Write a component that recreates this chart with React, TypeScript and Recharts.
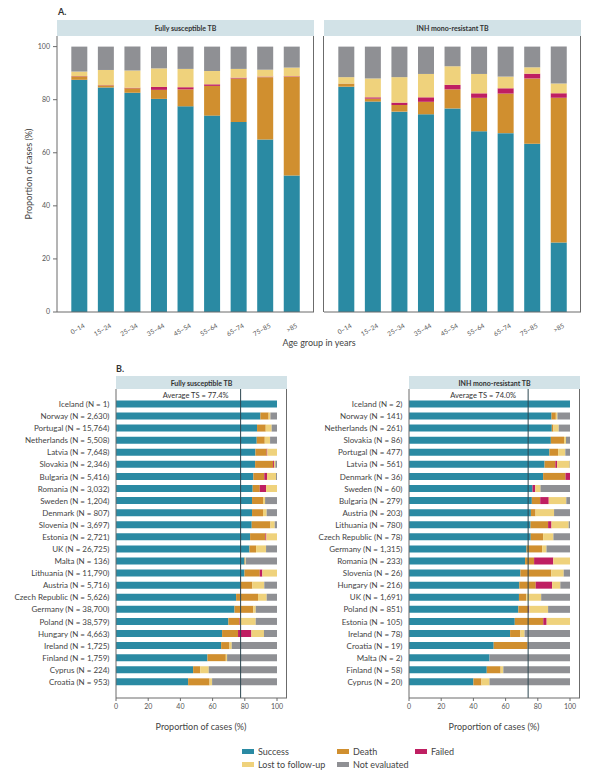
import { BarChart, Bar, XAxis, YAxis, ReferenceLine } from "recharts";

// ---- Panel A: outcome by age group ----
const ageGroups = ["0–14", "15–24", "25–34", "35–44", "45–54", "55–64", "65–74", "75–85", ">85"];

const fsAgeSuccess = [87.5, 84.6, 82.6, 80.3, 77.5, 74.0, 71.6, 65.0, 51.4];
const fsAgeDeath = [1.3, 0.8, 1.7, 3.4, 6.4, 11.2, 16.4, 23.5, 37.2];
const fsAgeFailed = [0.1, 0.1, 0.2, 1.1, 0.8, 0.6, 0.3, 0.2, 0.2];
const fsAgeLost = [1.7, 5.7, 6.5, 7.0, 6.9, 5.0, 3.3, 2.6, 3.3];
const fsAgeNotEval = [9.4, 8.8, 9.0, 8.2, 8.4, 9.2, 8.4, 8.7, 7.9];

const inhAgeSuccess = [84.9, 79.3, 75.5, 74.5, 76.7, 68.1, 67.4, 63.4, 26.2];
const inhAgeDeath = [1.2, 1.1, 2.5, 4.7, 7.2, 12.6, 14.9, 24.6, 54.5];
const inhAgeFailed = [0, 0.5, 0.9, 1.7, 1.7, 1.7, 2.0, 1.8, 1.7];
const inhAgeLost = [2.4, 7.1, 9.6, 8.8, 7.0, 7.3, 4.4, 2.4, 3.7];
const inhAgeNotEval = [11.5, 12.0, 11.5, 10.3, 7.4, 10.3, 11.3, 7.8, 13.9];

// ---- Panel B: outcome by country ----
const fsCountries = [
  "Iceland", "Norway", "Portugal", "Netherlands", "Latvia", "Slovakia", "Bulgaria", "Romania",
  "Sweden", "Denmark", "Slovenia", "Estonia", "UK", "Malta", "Lithuania", "Austria",
  "Czech Republic", "Germany", "Poland", "Hungary", "Ireland", "Finland", "Cyprus", "Croatia",
];
const fsN = [1, 2630, 15764, 5508, 7648, 2346, 5416, 3032, 1204, 807, 3697, 2721, 26725, 136, 11790, 5716, 5626, 38700, 38579, 4663, 1725, 1759, 224, 953];
const fsSuccess = [100, 89.7, 87.6, 87.4, 86.6, 86.4, 85.3, 84.9, 84.5, 84.5, 84.3, 83.3, 82.9, 79.8, 79.8, 77.1, 74.6, 73.6, 69.8, 65.9, 65.3, 56.8, 47.9, 44.8];
const fsDeath = [0, 5.1, 5.4, 5.0, 7.0, 11.1, 6.8, 4.4, 6.8, 6.8, 11.6, 9.5, 4.1, 0.4, 9.5, 7.6, 13.6, 11.7, 6.9, 9.9, 5.2, 11.4, 4.4, 13.3];
const fsFailed = [0, 0, 0, 0, 0.4, 0.6, 1.7, 3.9, 0, 0, 0, 0.6, 0, 0, 1.6, 0, 0, 0, 0.4, 8.3, 0, 0, 0, 0];
const fsLost = [0, 1.1, 3.7, 3.3, 6.0, 0.9, 5.6, 6.8, 1.3, 2.3, 2.7, 6.6, 6.2, 0.4, 9.1, 7.4, 5.4, 1.5, 9.7, 7.8, 1.4, 0.8, 5.3, 1.6];
const fsNotEval = [0, 4.1, 3.3, 4.3, 0, 1.0, 0.6, 0, 7.4, 6.4, 1.4, 0, 6.8, 19.4, 0, 7.9, 6.4, 13.2, 13.2, 8.1, 28.1, 31.0, 42.4, 40.3];
const fsAverage = 77.4;

const inhCountries = [
  "Iceland", "Norway", "Netherlands", "Slovakia", "Portugal", "Latvia", "Denmark", "Sweden",
  "Bulgaria", "Austria", "Lithuania", "Czech Republic", "Germany", "Romania", "Slovenia", "Hungary",
  "UK", "Poland", "Estonia", "Ireland", "Croatia", "Malta", "Finland", "Cyprus",
];
const inhN = [2, 141, 261, 86, 477, 561, 36, 60, 279, 203, 780, 78, 1315, 233, 26, 216, 1691, 851, 105, 78, 19, 2, 58, 20];
const inhSuccess = [100, 88.5, 88.7, 88.1, 87.2, 84.2, 83.3, 76.7, 76.3, 75.7, 75.5, 75.6, 73.0, 72.1, 69.2, 68.5, 68.3, 67.9, 65.7, 62.8, 52.6, 50, 48.3, 40];
const inhDeath = [0, 2.7, 1.0, 8.2, 5.4, 6.7, 13.9, 0, 5.2, 2.9, 10.9, 7.7, 9.7, 5.6, 19.2, 10.2, 4.5, 6.2, 17.7, 6.4, 21.1, 0, 8.6, 5];
const inhFailed = [0, 0, 0, 0, 0, 1.1, 2.8, 1.7, 5.3, 0, 2.1, 0, 0, 11.9, 0, 10.2, 0, 0.6, 2.1, 0, 0, 0, 0, 0];
const inhLost = [0, 1.0, 3.3, 1.2, 4.5, 7.8, 0, 3.3, 10.9, 11.5, 10.7, 6.4, 2.7, 10.4, 7.7, 5.1, 9.3, 11.7, 14.5, 2.6, 0, 0, 1.7, 5];
const inhNotEval = [0, 7.8, 7.0, 2.5, 2.9, 0.2, 0, 18.3, 2.3, 9.9, 0.8, 10.3, 14.6, 0, 3.9, 6.0, 17.9, 13.6, 0, 28.2, 26.3, 50, 41.4, 50];
const inhAverage = 74.0;

const SERIES = [
  { key: "success", name: "Success", color: "#2a8aa3" },
  { key: "death", name: "Death", color: "#d08f2f" },
  { key: "failed", name: "Failed", color: "#bf1f62" },
  { key: "lost", name: "Lost to follow-up", color: "#efd27c" },
  { key: "notEval", name: "Not evaluated", color: "#8f9094" },
];

const FONT = "Lato, 'Open Sans', sans-serif";
const AXIS = "#6b6b6b";
const TEXT = "#444";
const STRIP = "#d2e2e7";

const fmtN = (n: number) => n.toLocaleString("en-US");

const ageRows = (s: number[], d: number[], f: number[], l: number[], ne: number[]) =>
  ageGroups.map((age, i) => ({ age, success: s[i], death: d[i], failed: f[i], lost: l[i], notEval: ne[i] }));

const countryRows = (c: string[], n: number[], s: number[], d: number[], f: number[], l: number[], ne: number[]) =>
  c.map((name, i) => ({
    label: `${name} (N = ${fmtN(n[i])})`,
    success: s[i], death: d[i], failed: f[i], lost: l[i], notEval: ne[i],
  }));

const fsAgeData = ageRows(fsAgeSuccess, fsAgeDeath, fsAgeFailed, fsAgeLost, fsAgeNotEval);
const inhAgeData = ageRows(inhAgeSuccess, inhAgeDeath, inhAgeFailed, inhAgeLost, inhAgeNotEval);
const fsCountryData = countryRows(fsCountries, fsN, fsSuccess, fsDeath, fsFailed, fsLost, fsNotEval);
const inhCountryData = countryRows(inhCountries, inhN, inhSuccess, inhDeath, inhFailed, inhLost, inhNotEval);

const AgeTick = (props: any) => {
  const { x, y, payload } = props;
  const tx = x + 6;
  const ty = y + 7;
  return (
    <text x={tx} y={ty} textAnchor="end" fontSize={6.5} fill="#555" fontFamily={FONT}
      transform={`rotate(-30, ${tx}, ${ty})`}>
      {payload.value}
    </text>
  );
};

// single-line row labels (the default tick wraps long text)
const RowTick = (props: any) => {
  const { x, y, payload } = props;
  return (
    <text x={x - 4.5} y={y} dy={3} textAnchor="end" fontSize={8} fill={TEXT} fontFamily={FONT}>
      {payload.value}
    </text>
  );
};

const AvgLabel = (text: string) => (props: any) => {
  const { viewBox } = props;
  return (
    <text x={viewBox.x - 12} y={viewBox.y + 9} textAnchor="end" fontSize={7.5} fill="#333" fontFamily={FONT}>
      {text}
    </text>
  );
};

const Strip = ({ left, top, width, height, text }: any) => (
  <div style={{
    position: "absolute", left, top, width, height, background: STRIP, color: "#333",
    fontSize: 7, fontWeight: 700, display: "flex", alignItems: "center", justifyContent: "center",
  }}>{text}</div>
);

const VLine = ({ left, top, height }: any) => (
  <div style={{ position: "absolute", left, top, width: 1, height, background: AXIS }} />
);

const renderBars = () =>
  SERIES.map((s) => (
    <Bar key={s.key} dataKey={s.key} name={s.name} stackId="a" fill={s.color} isAnimationActive={false} />
  ));

const AgePanel = ({ data, left, width, margin, showY }: any) => (
  <div style={{ position: "absolute", left, top: 0 }}>
    <BarChart width={width} height={340} data={data} margin={margin} barCategoryGap="20%">
      <XAxis dataKey="age" height={22} interval={0} tickLine={false} axisLine={{ stroke: AXIS }}
        padding={{ left: 9, right: 9 }} tick={<AgeTick />} />
      <YAxis hide={!showY} width={30} domain={[0, 104]} ticks={[0, 20, 40, 60, 80, 100]} allowDataOverflow
        tickSize={4} tickMargin={3} axisLine={{ stroke: AXIS }} tickLine={{ stroke: AXIS }}
        tick={{ fontSize: 7, fill: "#555", fontFamily: FONT }} />
      {renderBars()}
    </BarChart>
  </div>
);

const CountryPanel = ({ data, left, width, margin, yWidth, avg }: any) => (
  <div style={{ position: "absolute", left, top: 360 }}>
    <BarChart layout="vertical" width={width} height={380} data={data} margin={margin} barCategoryGap="20%">
      <XAxis type="number" domain={[0, 100]} ticks={[0, 20, 40, 60, 80, 100]} height={20}
        padding={{ left: 0, right: 10 }} tickSize={3} tickMargin={3}
        axisLine={{ stroke: AXIS }} tickLine={{ stroke: AXIS }}
        tick={{ fontSize: 7, fill: "#555", fontFamily: FONT }} />
      <YAxis type="category" dataKey="label" width={yWidth} interval={0} tickSize={0}
        tickLine={false} axisLine={{ stroke: AXIS }} padding={{ top: 9, bottom: 10 }}
        tick={<RowTick />} />
      {renderBars()}
      <ReferenceLine x={avg} stroke="#2c4650" strokeWidth={1}
        label={AvgLabel(`Average TS = ${avg.toFixed(1)}%`)} />
    </BarChart>
  </div>
);

const legendColumns = [["success", "lost"], ["death", "notEval"], ["failed"]];
const legendColWidths = [95, 78, 80];

export default function App() {
  return (
    <div style={{ position: "absolute", left: 0, top: 0, width: 616, height: 781, background: "#fff", fontFamily: FONT, color: TEXT }}>
      {/* Panel A */}
      <div style={{ position: "absolute", left: 58, top: 6, fontSize: 9, fontWeight: 700, color: "#333" }}>A.</div>
      <Strip left={57} top={20} width={257} height={16} text="Fully susceptible TB" />
      <Strip left={324} top={20} width={257} height={16} text="INH mono-resistant TB" />
      <AgePanel data={fsAgeData} left={0} width={320} margin={{ top: 36, right: 6, bottom: 6, left: 27 }} showY />
      <AgePanel data={inhAgeData} left={300} width={300} margin={{ top: 36, right: 19, bottom: 6, left: 24 }} showY={false} />
      <VLine left={313} top={36} height={276} />
      <VLine left={323} top={36} height={276} />
      <VLine left={580} top={36} height={276} />
      <div style={{
        position: "absolute", left: 28, top: 174, transform: "translate(-50%, -50%) rotate(-90deg)",
        fontSize: 9, whiteSpace: "nowrap",
      }}>Proportion of cases (%)</div>
      <div style={{ position: "absolute", left: 319, top: 342, transform: "translate(-50%, -50%)", fontSize: 9, whiteSpace: "nowrap" }}>
        Age group in years
      </div>

      {/* Panel B */}
      <div style={{ position: "absolute", left: 116, top: 363, fontSize: 9, fontWeight: 700, color: "#333" }}>B.</div>
      <Strip left={116} top={376} width={171} height={13} text="Fully susceptible TB" />
      <Strip left={409} top={376} width={171} height={13} text="INH mono-resistant TB" />
      <CountryPanel data={fsCountryData} left={0} width={300} yWidth={110} avg={fsAverage}
        margin={{ top: 29, right: 13, bottom: 22, left: 6 }} />
      <CountryPanel data={inhCountryData} left={300} width={316} yWidth={104} avg={inhAverage}
        margin={{ top: 29, right: 36, bottom: 22, left: 5 }} />
      <VLine left={286} top={389} height={309} />
      <VLine left={579} top={389} height={309} />
      <div style={{ position: "absolute", left: 201, top: 726, transform: "translate(-50%, -50%)", fontSize: 9, whiteSpace: "nowrap" }}>
        Proportion of cases (%)
      </div>
      <div style={{ position: "absolute", left: 494, top: 726, transform: "translate(-50%, -50%)", fontSize: 9, whiteSpace: "nowrap" }}>
        Proportion of cases (%)
      </div>

      {/* Legend */}
      <div style={{ position: "absolute", left: 242, top: 746, display: "flex" }}>
        {legendColumns.map((col, ci) => (
          <div key={ci} style={{ width: legendColWidths[ci], display: "flex", flexDirection: "column", gap: 2 }}>
            {col.map((k) => {
              const s = SERIES.find((x) => x.key === k)!;
              return (
                <div key={k} style={{ display: "flex", alignItems: "center", height: 11, fontSize: 9, whiteSpace: "nowrap" }}>
                  <span style={{ width: 12, height: 5, background: s.color, marginRight: 4, display: "inline-block" }} />
                  {s.name}
                </div>
              );
            })}
          </div>
        ))}
      </div>
    </div>
  );
}
